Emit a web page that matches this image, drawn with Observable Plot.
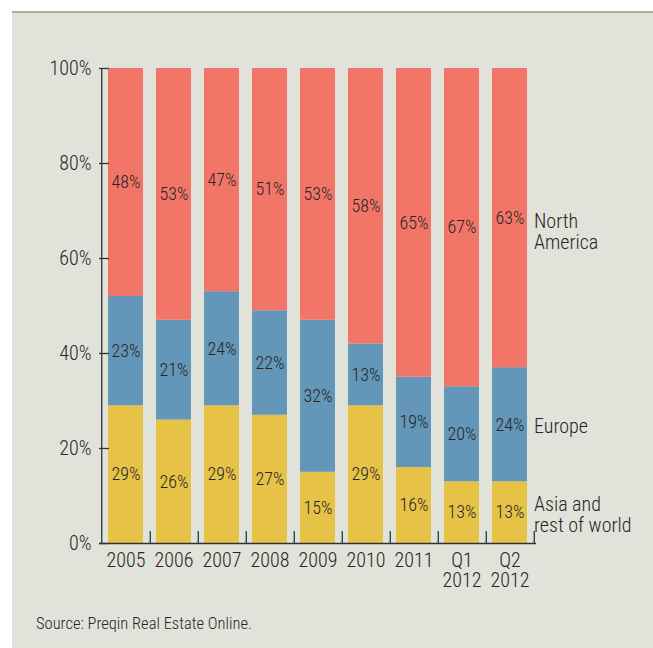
<!DOCTYPE html>
<html><head><meta charset="utf-8">
<script src="https://cdn.jsdelivr.net/npm/d3@7"></script>
<script src="https://cdn.jsdelivr.net/npm/@observablehq/plot@0.6"></script>
<style>
body{margin:0;background:#fff;}
#wrap{position:relative;width:653px;height:648px;overflow:hidden;font-family:"Liberation Sans Narrow","Roboto Condensed","DejaVu Sans Condensed",sans-serif;font-weight:300;color:#262626;}
#panel{position:absolute;left:12px;top:11px;right:0;bottom:0;background:#e1e3db;border-top:2px solid #abaf9f;}
#chart{position:absolute;left:0;top:0;}
#source{position:absolute;left:36px;top:614px;font-size:16.5px;}
</style></head>
<body><div id="wrap"><div id="panel"></div><div id="chart"></div><div id="source">Source: Preqin Real Estate Online.</div></div>
<script>
const periods = ["2005","2006","2007","2008","2009","2010","2011","Q1 2012","Q2 2012"];
const periodLabels = ["2005","2006","2007","2008","2009","2010","2011","Q1\n2012","Q2\n2012"];
const regions = ["Asia and rest of world","Europe","North America"];
const regionLabels = ["Asia and\nrest of world","Europe","North\nAmerica"];
const asia = [29,26,29,27,15,29,16,13,13];
const europe = [23,21,24,22,32,13,19,20,24];
const northAmerica = [48,53,47,51,53,58,65,67,63];
const yTicks = [0,20,40,60,80,100];
const colors = ["#e6c347","#6396b8","#f27668"];

const series = [asia, europe, northAmerica];
const rows = [];
periods.forEach((p, i) => {
  regions.forEach((r, j) => {
    rows.push({period: p, region: r, value: series[j][i], label: regionLabels[j]});
  });
});
const labelOf = new Map(periods.map((p, i) => [p, periodLabels[i]]));
const lastRows = rows.filter(d => d.period === periods[periods.length - 1]);

const W = 653, mL = 99, mR = 117;
const step = (W - mL - mR) / periods.length;
const ink = "#262626";
const lineInk = "#333";
const font = '"Liberation Sans Narrow","Roboto Condensed","DejaVu Sans Condensed",sans-serif';
const isNA = d => d.region === "North America";

const chart = Plot.plot({
  width: W, height: 600,
  marginLeft: mL, marginRight: mR, marginTop: 68, marginBottom: 57,
  style: {background: "transparent", fontFamily: font, fontWeight: 300, color: ink, overflow: "visible"},
  x: {domain: periods, paddingInner: 0.28, paddingOuter: 0.14, axis: null},
  y: {domain: [0, 100], axis: null},
  color: {domain: regions, range: colors},
  marks: [
    Plot.barY(rows, Plot.stackY({x: "period", y: "value", fill: "region", z: "region", order: regions})),
    Plot.text(rows, Plot.stackY({x: "period", y: "value", z: "region", order: regions, text: d => d.value + "%", fontSize: 18, fill: ink})),
    Plot.text(lastRows, Plot.filter(d => !isNA(d), Plot.stackY({x: "period", y: "value", z: "region", order: regions, text: "label", textAnchor: "start", dx: 24, dy: 2, fontSize: 20, fill: ink, lineHeight: 1.05}))),
    Plot.text(lastRows, Plot.filter(isNA, Plot.stackY({x: "period", y: "value", z: "region", order: regions, text: "label", textAnchor: "start", dx: 24, dy: 14, fontSize: 20, fill: ink, lineHeight: 1.05}))),
    Plot.ruleY([0], {stroke: lineInk, strokeWidth: 1.3}),
    Plot.ruleY(yTicks, {stroke: lineInk, strokeWidth: 1.3, insetRight: W - mL - mR - 10}),
    Plot.ruleX([periods[0]], {dx: -step / 2, stroke: lineInk, strokeWidth: 1.3}),
    Plot.ruleX(periods, {dx: step / 2, stroke: lineInk, strokeWidth: 1.3, insetTop: 475 - 12}),
    Plot.axisY(yTicks, {tickSize: 0, tickPadding: 8, tickFormat: d => d + "%", fontSize: 20, fill: ink, label: null}),
    Plot.axisX({tickSize: 0, tickPadding: 9, tickFormat: d => labelOf.get(d), fontSize: 20, fill: ink, lineHeight: 1, label: null})
  ]
});
document.getElementById("chart").appendChild(chart);
</script>
</body></html>
